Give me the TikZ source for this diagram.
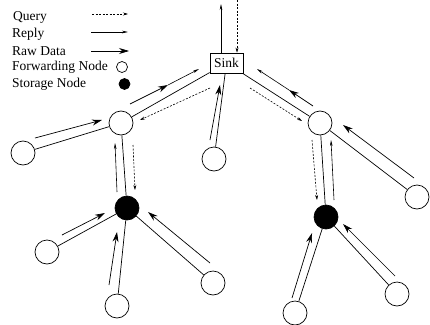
\documentclass[tikz,border=0pt]{standalone}
\usepackage{fontspec}
\setmainfont{Liberation Serif}
\usetikzlibrary{arrows.meta}
\begin{document}
\begin{tikzpicture}[x=1pt,y=-1pt,
  edge/.style={line width=0.7pt},
  fwd/.style={circle,draw,line width=0.7pt,minimum size=24pt,inner sep=0pt},
  stor/.style={fwd,fill=black},
  rawarrow/.style={line width=0.7pt,-{Stealth[length=10pt,width=6pt]}},
  replyarrow/.style={line width=0.6pt,-{Stealth[length=6pt,width=2.6pt]}},
  queryarrow/.style={line width=0.6pt,dash pattern=on 2pt off 1.5pt,-{Stealth[length=5pt,width=3pt]}},
  lbl/.style={font=\fontsize{13.5}{15}\selectfont,anchor=base west,inner sep=0pt},
  legcirc/.style={circle,draw,line width=0.7pt,minimum size=11pt,inner sep=0pt}
]
\useasboundingbox (0,0) rectangle (430,324);

% legend
\node[lbl] (tq) at (13,20.5) {Query};
\node[lbl] (tr) at (12,37) {Reply};
\node[lbl] (td) at (12,55.5) {Raw Data};
\node[lbl] (tf) at (12,70.5) {Forwarding Node};
\node[lbl] (ts) at (12,87) {Storage Node};
\coordinate (q1) at (92,14); \coordinate (q2) at (128,14);
\coordinate (r1) at (91,32); \coordinate (r2) at (128,32);
\coordinate (d1) at (91,51); \coordinate (d2) at (129,51);
\draw[queryarrow] (q1) -- (q2);
\draw[replyarrow] (r1) -- (r2);
\draw[rawarrow] (d1) -- (d2);
\node[legcirc] (lf) at (122,67) {};
\node[legcirc,fill=black] (ls) at (124.5,84) {};

% nodes
\node[draw,line width=0.7pt,minimum width=33pt,minimum height=20pt,inner sep=0pt,font=\fontsize{13.5}{15}\selectfont] (sink) at (226.5,63) {Sink};
\node[fwd] (F1) at (121,123) {};
\node[fwd] (L1) at (23,153) {};
\node[stor] (S1) at (127,208) {};
\node[fwd] (A1) at (47,252) {};
\node[fwd] (A2) at (117,306) {};
\node[fwd] (A3) at (213,283) {};
\node[fwd] (M) at (214,159) {};
\node[fwd] (F2) at (320,123) {};
\node[fwd] (R1) at (417,197) {};
\node[stor] (S2) at (326,217) {};
\node[fwd] (B1) at (295,313) {};
\node[fwd] (B2) at (397,294) {};

% edges
\draw[edge] (sink) -- (F1);
\draw[edge] (sink) -- (M);
\draw[edge] (sink) -- (F2);
\draw[edge] (F1) -- (L1);
\draw[edge] (F1) -- (S1);
\draw[edge] (S1) -- (A1);
\draw[edge] (S1) -- (A2);
\draw[edge] (S1) -- (A3);
\draw[edge] (F2) -- (R1);
\draw[edge] (F2) -- (S2);
\draw[edge] (S2) -- (B1);
\draw[edge] (S2) -- (B2);

% top of sink
\coordinate (top1) at (221,4);
\coordinate (top2) at (237,0);
\draw[replyarrow] (sink.north -| top1) -- (top1);
\draw[queryarrow] (top2) -- (top2 |- sink.north);

% arrows along edges
\coordinate (a1s) at (130,104); \coordinate (a1m) at (168,85); \coordinate (a1e) at (199,69);
\draw[rawarrow] (a1s) -- (a1m);
\draw[replyarrow] (a1m) -- (a1e);
\coordinate (q3s) at (210,88); \coordinate (q3e) at (140,120);
\draw[queryarrow] (q3s) -- (q3e);

\coordinate (a2s) at (35,138); \coordinate (a2e) at (102,120);
\draw[rawarrow] (a2s) -- (a2e);

\coordinate (r3s) at (117,192); \coordinate (r3e) at (115,143);
\draw[replyarrow] (r3s) -- (r3e);
\coordinate (q4s) at (133,145); \coordinate (q4e) at (135,190);
\draw[queryarrow] (q4s) -- (q4e);

\coordinate (a3s) at (62,235); \coordinate (a3e) at (105,213);
\draw[rawarrow] (a3s) -- (a3e);
\coordinate (a4s) at (109,285); \coordinate (a4e) at (117,232);
\draw[rawarrow] (a4s) -- (a4e);
\coordinate (a5s) at (210,263); \coordinate (a5e) at (148,212);
\draw[rawarrow] (a5s) -- (a5e);

\coordinate (a6s) at (210,140); \coordinate (a6e) at (220,85);
\draw[rawarrow] (a6s) -- (a6e);

\coordinate (a7s) at (313,106); \coordinate (a7m) at (289,90); \coordinate (a7e) at (257,69);
\draw[rawarrow] (a7s) -- (a7m);
\draw[replyarrow] (a7m) -- (a7e);
\coordinate (q5s) at (250,88); \coordinate (q5e) at (302,121);
\draw[queryarrow] (q5s) -- (q5e);

\coordinate (q6s) at (312,140); \coordinate (q6e) at (317,200);
\draw[queryarrow] (q6s) -- (q6e);
\coordinate (r6s) at (334,200); \coordinate (r6e) at (331,140);
\draw[replyarrow] (r6s) -- (r6e);

\coordinate (a8s) at (414,178); \coordinate (a8e) at (343,125);
\draw[rawarrow] (a8s) -- (a8e);

\coordinate (a9s) at (292,298); \coordinate (a9e) at (312,233);
\draw[rawarrow] (a9s) -- (a9e);
\coordinate (a10s) at (395,276); \coordinate (a10e) at (343,224);
\draw[rawarrow] (a10s) -- (a10e);
\end{tikzpicture}
\end{document}
